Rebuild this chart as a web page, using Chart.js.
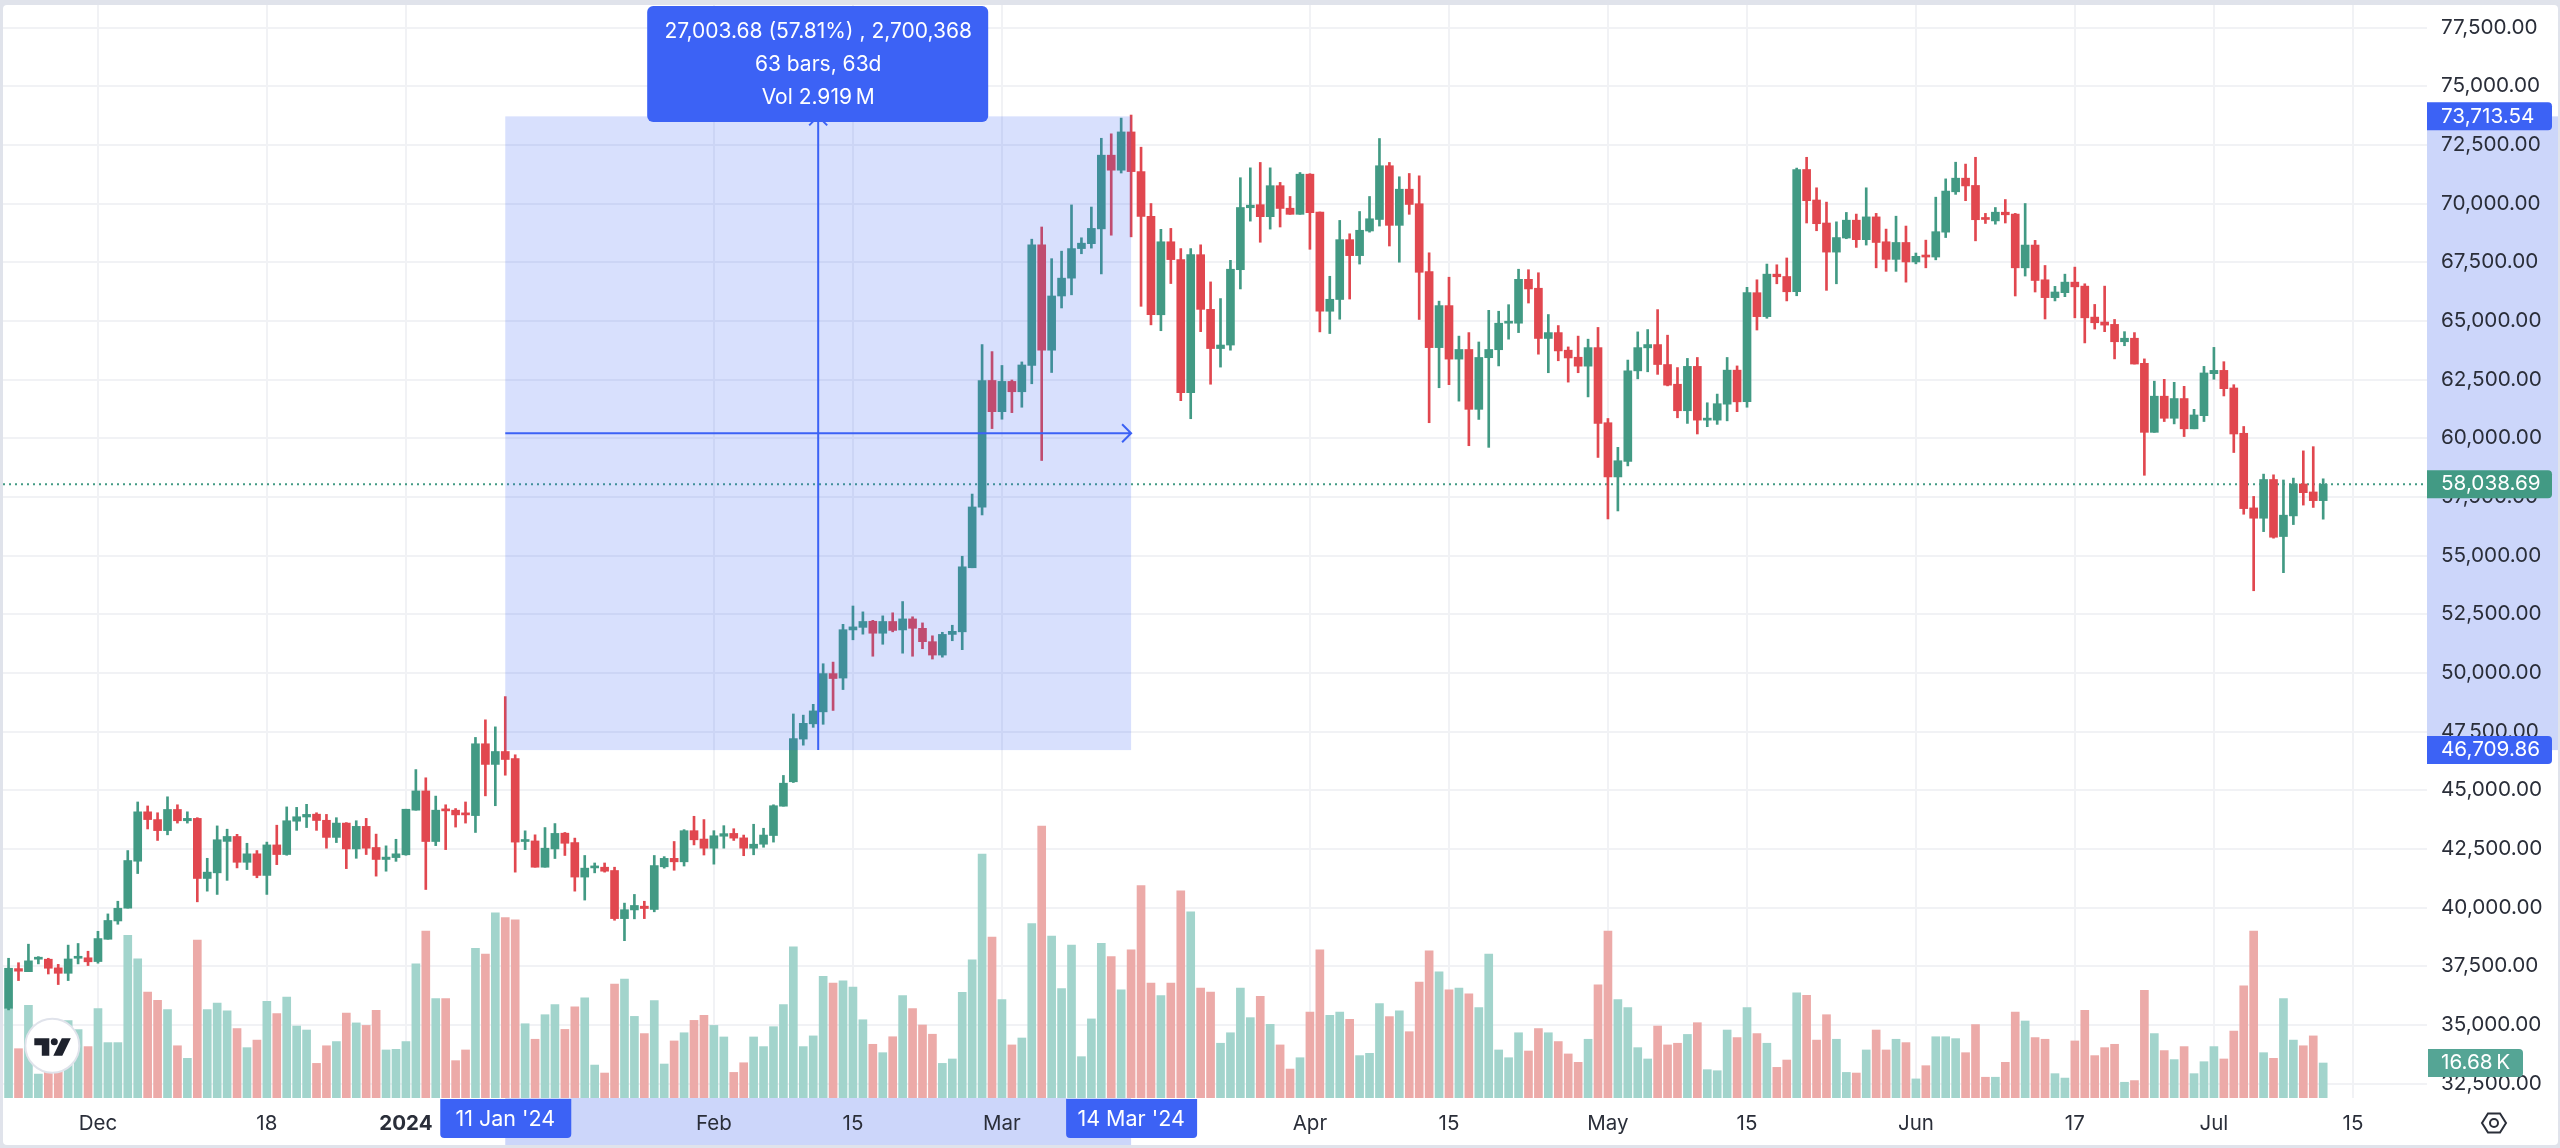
<!DOCTYPE html>
<html>
<head>
<meta charset="utf-8">
<title>BTC measure</title>
<script src="https://cdn.jsdelivr.net/npm/chart.js@4/dist/chart.umd.min.js"></script>
<style>
html, body { margin: 0; padding: 0; background: #e0e3eb; overflow: hidden; }
canvas { display: block; }
</style>
</head>
<body>
<canvas id="chart" width="2560" height="1148"></canvas>
<script>
// one entry per day, first bar is 22 Nov 2023, last is 12 Jul 2024
const opens = [
35710,37400,37270,37800,37800,37430,37200,37840,37860,37700,
38650,39430,39975,41975,44080,43750,43280,44180,43700,43800,
41240,41480,42820,43030,41930,42290,41370,42670,42260,43680,
43860,43980,43720,42990,43600,42500,43460,42560,42050,42130,
42250,44150,44970,42815,44190,44150,44020,43920,46980,46100,
46650,46350,42815,42840,41720,42500,43170,42770,41300,41690,
41720,41580,39530,39900,40060,39920,41738,42097,41950,43276,
42920,42530,43040,43160,42970,42530,42700,43070,44320,45360,
47180,47830,48340,49970,49780,51830,51940,52200,51690,52190,
51830,52300,51900,51330,50760,51640,51750,54480,57060,62460,
61130,62420,61980,63100,68240,63750,66060,66820,68080,68290,
68920,72060,71420,73050,71360,69450,65260,68370,67610,61940,
67820,65490,63820,63970,67180,69820,69950,69440,70760,69800,
69540,71250,69640,65410,65910,68460,67780,68830,69320,71610,
69070,70610,69990,67100,63860,65650,63370,63780,61230,63430,
63770,64900,64900,66770,66390,64250,64500,63750,63450,63070,
63860,60660,58350,59010,62870,63850,63990,63140,62300,61170,
63060,60770,60770,61450,62900,61560,66200,65180,66990,66890,
66240,71450,70150,69170,67930,68530,69290,68460,69430,68370,
67620,68340,67510,67780,67720,68780,70500,71080,70770,69380,
69260,69630,69550,67260,68230,66750,65990,66200,66650,66480,
65160,64950,64850,64110,64260,63190,60250,61790,60850,61690,
60400,60960,62750,62890,62140,60210,57030,56590,58240,55810,
56690,58050,57710,57340];

const closes = [
37415,37290,37730,37860,37415,37200,37810,37900,37690,38680,
39450,39970,42005,44080,43750,43280,44180,43700,43800,41240,
41510,42890,43030,41930,42290,41370,42670,42260,43700,43870,
43970,43710,42990,43600,42500,43460,42530,42050,42150,42290,
44190,44970,42815,44150,44120,43950,43950,46980,46100,46650,
46310,42790,42890,41720,42530,43160,42740,41300,41680,41760,
41550,39530,39910,40090,39960,41790,42097,41950,43276,42888,
42530,43060,43150,42960,42530,42700,43090,44340,45300,47200,
47850,48380,49970,49760,51840,51960,52190,51690,52190,51810,
52300,51900,51330,50760,51640,51770,54520,57070,62460,61130,
62420,61980,63120,68240,63750,66060,66820,68080,68310,68940,
72060,71420,73050,71360,69450,65260,68370,67610,61940,67820,
65490,63820,63970,67200,69830,69930,69440,70760,69790,69540,
71250,69610,65410,65920,68460,67780,68860,69350,71610,69070,
70610,69960,67070,63860,65650,63370,63780,61230,63440,63780,
64900,64960,66770,66360,64250,64500,63720,63420,63070,63860,
60630,58350,59040,62870,63860,63990,63140,62260,61170,63060,
60770,60840,61470,62900,61550,66200,65180,66990,66880,66240,
71450,70120,69140,67930,68550,69290,68460,69430,68340,67620,
68340,67510,67750,67720,68800,70530,71080,70750,69310,69320,
69630,69520,67260,68230,66720,65990,66230,66650,66450,65130,
64920,64820,64110,64260,63160,60250,61790,60850,61690,60400,
60990,62780,62890,62110,60180,57000,56590,58240,55780,56720,
58050,57680,57340,58040];

const highs = [
37840,37650,38440,37910,37840,37580,38400,38470,38140,38990,
39730,40270,42430,44500,44330,44040,44720,44380,44080,43830,
42100,43480,43340,43120,42740,42430,42790,43510,44290,44270,
44400,44040,43970,43830,43620,43700,43800,43130,42630,42910,
44190,45880,45530,44750,44380,44220,44500,47250,48000,47700,
48990,46510,43270,43100,43410,43580,43200,42960,42220,41900,
41900,41720,40190,40560,40270,42220,42170,42816,43320,43890,
43750,43276,43490,43360,43090,43550,43380,44380,45630,48250,
48200,48660,50390,50460,52070,52850,52600,52240,52430,52560,
53040,52390,52130,51580,51730,52030,54970,57620,63990,63690,
63100,62480,63250,68480,69000,67650,67970,69940,68540,69850,
72780,72970,73640,73770,72400,70000,68900,68940,68080,68080,
68240,66660,65950,67580,71100,71520,71750,71520,70900,70300,
71320,71270,69640,66900,69280,68710,69660,70300,72770,71750,
71140,71280,71180,67900,65840,66860,64350,64500,64100,65450,
65410,65690,67200,67180,67050,65270,64800,63890,64350,64220,
64720,60840,59610,63330,64530,64630,65480,64390,63010,63400,
63440,61510,61880,63440,63080,66430,66750,67420,67390,67680,
71510,71970,70670,70060,69220,69620,69550,70670,69580,68910,
69460,69040,67890,68440,70270,71050,71760,71680,71970,69580,
69830,70170,69580,70000,68430,67360,66470,66990,67290,66580,
65700,66480,65060,64540,64500,63380,62430,62510,62380,62210,
61230,63060,63870,63260,62280,60500,57520,58470,58440,58220,
58300,59460,59640,58270];

const lows = [
35640,36890,37270,37600,37170,36720,36890,37600,37530,37630,
38650,39290,39975,41450,43350,42860,43100,43600,43600,40245,
40700,40560,41160,41690,41620,41270,40560,41830,42230,43290,
43410,43290,42530,42770,41660,42100,42260,41340,41550,41970,
42230,44150,40770,42640,42470,43430,43600,43200,44760,44340,
45640,41510,42470,41720,41720,42090,42220,40700,40320,41480,
41510,39460,38590,39520,39530,39820,41680,41590,41770,42670,
42240,41850,42530,42860,42210,42250,42570,42790,44320,45330,
46920,47680,47810,48400,49290,51410,51650,50710,51220,51750,
50840,50710,51030,50590,50670,51370,50990,54480,56730,60410,
60810,61090,61320,62320,59050,62800,65550,66110,67860,68100,
67000,68650,71300,68580,65620,64830,64580,66590,61600,60830,
64540,62300,63030,63750,66360,69250,68350,68910,69000,69540,
69540,68050,64530,64460,65070,65930,67420,68780,69040,68190,
67500,69540,65060,60660,62150,62280,61580,59680,60800,59610,
63080,64220,64500,65760,63580,62790,63300,62390,62790,61760,
59180,56560,56900,58820,62530,62830,62720,62230,60870,60630,
60180,60490,60590,60740,61130,61320,64610,65110,66580,65850,
66070,69170,68840,66300,66580,68500,68130,68230,67260,67110,
67110,66650,67430,67260,67600,68550,70390,70120,68410,69150,
69120,69170,66060,66910,66230,65080,65850,66030,65130,64060,
64650,64540,63380,63940,63160,58420,60250,60710,60610,60070,
60400,60710,62510,61800,59390,56760,53500,56020,55740,54270,
56320,57150,57050,56550];

// volume in thousands
const volumes = [
42.9,23.5,44.2,11.4,20,18,36.9,32.6,24.5,42.6,
26.4,26.4,77.5,66.3,50.5,46.6,42.1,24.9,18.9,75.3,
42.1,45.3,41.5,33.1,24.0,27.6,46.1,40.2,48.1,34.3,
32.4,16.5,24.9,26.9,40.5,35.8,34.6,41.8,22.9,23.2,
26.9,63.9,79.6,47.4,47.4,17.8,22.9,71.3,68.6,88.3,
86.0,84.9,35.4,28.0,39.7,44.5,32.7,43.4,47.7,15.7,
11.9,54.3,56.7,38.9,30.7,46.4,16.2,27.2,31.1,37.0,
39.4,34.6,29.1,12.2,16.8,29.1,24.5,34.0,44.5,72.0,
24.5,29.6,58.0,54.8,55.9,52.9,37.3,25.6,21.6,29.2,
48.8,42.6,34.8,30.4,16.5,18.6,50.4,65.9,116.3,76.7,
46.9,25.3,28.6,83.1,129.6,77.2,52.1,72.9,19.7,37.7,
73.7,67.4,51.6,70.6,101.2,54.8,48.8,54.8,98.8,88.7,
52.4,50.5,26.1,31.1,52.4,38.3,48.5,35.1,25.3,13.8,
19.2,41.0,70.6,39.4,41.0,37.5,20.2,21.3,45.0,38.8,
41.5,31.6,55.3,70.2,60.2,51.6,52.4,49.7,43.1,68.6,
22.9,19.2,31.1,22.4,33.1,31.1,26.9,21.0,17.0,28.0,
54.0,79.6,46.9,43.1,24.0,18.6,34.3,25.3,26.1,30.3,
35.9,13.5,13.0,32.4,28.8,43.1,30.7,26.1,14.6,18.1,
50.1,48.9,27.6,39.7,28.0,12.2,11.9,22.9,32.4,22.9,
28.0,26.4,9.1,15.4,29.2,29.2,28.3,21.6,35.0,9.9,
9.9,17.0,41.0,36.7,28.8,28.0,11.6,9.5,27.2,41.8,
20.2,24.0,25.6,7.5,8.3,51.3,30.7,22.6,18.3,24.5,
11.6,17.3,24.5,18.6,31.9,53.5,79.6,21.6,18.9,47.4,
27.6,24.9,29.6,16.68];

const priceTicks = [32500,35000,37500,40000,42500,45000,47500,50000,52500,55000,57500,60000,62500,65000,67500,70000,72500,75000,77500];
const timeTickBars = [9,26,40,71,85,100,131,145,161,175,192,208,222,236];
const timeTickLabels = ["Dec","18","2024","Feb","15","Mar","Apr","15","May","15","Jun","17","Jul","15"];

const lastPrice = 58038.69;
const lastVolume = 16.68;
const measureFromBar = 50, measureToBar = 113;
const measureFromPrice = 46709.86, measureToPrice = 73713.54;
const measureLines = ["27,003.68 (57.81%) , 2,700,368", "63 bars, 63d", "Vol 2.919\u2009M"];

const upColor = "#429a84", downColor = "#e1474f";
const upVol = "#a2d4cc", downVol = "#ecaaa8";
const blue = "#3c62f5";
const gridColor = "#f1f2f5";
const font = "Inter";

function isUp(i) { return closes[i] >= opens[i]; }
function money(v) { return v.toLocaleString("en-US", { minimumFractionDigits: 2, maximumFractionDigits: 2 }); }

function badge(ctx, x, y, w, h, r, fill) {
    ctx.fillStyle = fill;
    ctx.beginPath();
    ctx.roundRect(x, y, w, h, r);
    ctx.fill();
}

function label(ctx, text, x, y, align, size) {
    ctx.fillStyle = "#fff";
    ctx.font = "400 " + size + "px " + font;
    ctx.textAlign = align;
    ctx.textBaseline = "middle";
    ctx.fillText(text, x, y);
}

// chart.js keeps room for the outer tick labels, the reference does not
function noEdgePadding(axis) {
    axis.paddingTop = 0;
    axis.paddingBottom = 0;
    axis.paddingLeft = 0;
    axis.paddingRight = 0;
}

const panelPlugin = {
    id: "panel",
    beforeDraw(chart) {
        const ctx = chart.ctx, a = chart.chartArea, xs = chart.scales.x, ys = chart.scales.y;
        ctx.save();
        ctx.fillStyle = "#e0e3eb";
        ctx.fillRect(0, 0, chart.width, chart.height);
        ctx.fillStyle = "#fff";
        ctx.beginPath();
        ctx.roundRect(a.left, a.top, chart.width - a.left - 2, chart.height - a.top - 3, 4);
        ctx.fill();
        // axis highlights of the measured range, they go under the tick labels
        ctx.fillStyle = "#ccd6fa";
        const x0 = xs.getPixelForValue(measureFromBar), x1 = xs.getPixelForValue(measureToBar);
        ctx.fillRect(x0, a.bottom, x1 - x0, chart.height - 3 - a.bottom);
        const y0 = ys.getPixelForValue(measureToPrice), y1 = ys.getPixelForValue(measureFromPrice);
        ctx.fillRect(a.right, y0, chart.width - 2 - a.right, y1 - y0);
        ctx.restore();
    },
    beforeDatasetsDraw(chart) {
        const ctx = chart.ctx, a = chart.chartArea, y = chart.scales.y.getPixelForValue(lastPrice);
        ctx.save();
        ctx.strokeStyle = upColor;
        ctx.lineWidth = 2;
        ctx.setLineDash([2, 4]);
        ctx.beginPath();
        ctx.moveTo(a.left, y);
        ctx.lineTo(a.right, y);
        ctx.stroke();
        ctx.restore();
    },
    afterDraw(chart) {
        const ctx = chart.ctx, a = chart.chartArea, xs = chart.scales.x, ys = chart.scales.y, vs = chart.scales.vol;
        const x0 = xs.getPixelForValue(measureFromBar), x1 = xs.getPixelForValue(measureToBar);
        const y0 = ys.getPixelForValue(measureToPrice), y1 = ys.getPixelForValue(measureFromPrice);
        const mx = xs.getPixelForValue((measureFromBar + measureToBar) / 2);
        const my = ys.getPixelForValue((measureFromPrice + measureToPrice) / 2);
        ctx.save();

        ctx.fillStyle = "rgba(60,98,245,0.2)";
        ctx.fillRect(x0, y0, x1 - x0, y1 - y0);

        ctx.strokeStyle = blue;
        ctx.lineWidth = 2;
        ctx.beginPath();
        ctx.moveTo(x0, my); ctx.lineTo(x1, my);
        ctx.moveTo(x1 - 9, my - 9); ctx.lineTo(x1, my); ctx.lineTo(x1 - 9, my + 9);
        ctx.moveTo(mx, y1); ctx.lineTo(mx, y0);
        ctx.moveTo(mx - 9, y0 + 9); ctx.lineTo(mx, y0); ctx.lineTo(mx + 9, y0 + 9);
        ctx.stroke();

        // measure box
        badge(ctx, mx - 171, a.top + 1, 341, 116, 6, blue);
        measureLines.forEach((t, i) => label(ctx, t, mx, a.top + 27 + i * 33, "center", 21));

        // price badges
        [[measureToPrice, blue], [measureFromPrice, blue], [lastPrice, upColor]].forEach(p => {
            const y = ys.getPixelForValue(p[0]);
            badge(ctx, a.right, y - 14, 125, 28, [0, 4, 4, 0], p[1]);
            label(ctx, money(p[0]), a.right + 14, y, "left", 20.7);
        });
        const vy = vs.getPixelForValue(lastVolume);
        badge(ctx, a.right + 1, vy - 14, 95, 28, [0, 4, 4, 0], "#55a595");
        label(ctx, lastVolume + "\u2009K", a.right + 14, vy, "left", 20.7);

        // time badges
        [[measureFromBar, "11 Jan '24"], [measureToBar, "14 Mar '24"]].forEach(t => {
            const x = xs.getPixelForValue(t[0]);
            badge(ctx, x - 65, a.bottom + 1, 131, 39, [0, 0, 4, 4], blue);
            label(ctx, t[1], x, a.bottom + 22, "center", 21.5);
        });

        // logo
        const cx = 52.3, cy = a.bottom - 52.3;
        ctx.fillStyle = "#fff";
        ctx.strokeStyle = "#e0e3eb";
        ctx.lineWidth = 2;
        ctx.beginPath();
        ctx.arc(cx, cy, 27, 0, Math.PI * 2);
        ctx.fill();
        ctx.stroke();
        ctx.fillStyle = "#1e222d";
        ctx.beginPath();
        ctx.moveTo(cx - 18, cy - 7.5); ctx.lineTo(cx - 3, cy - 7.5); ctx.lineTo(cx - 3, cy + 10);
        ctx.lineTo(cx - 10.5, cy + 10); ctx.lineTo(cx - 10.5, cy - 0.5); ctx.lineTo(cx - 18, cy - 0.5);
        ctx.closePath();
        ctx.moveTo(cx + 9.5, cy - 7.5); ctx.lineTo(cx + 18.5, cy - 7.5); ctx.lineTo(cx + 10, cy + 10); ctx.lineTo(cx + 1, cy + 10);
        ctx.closePath();
        ctx.moveTo(cx + 5.5, cy - 4);
        ctx.arc(cx + 2, cy - 4, 3.5, 0, Math.PI * 2);
        ctx.fill();

        // settings icon
        const sx = 2494, sy = 1123;
        ctx.strokeStyle = "#2a2e39";
        ctx.lineWidth = 2;
        ctx.beginPath();
        for (let i = 0; i < 6; i++) {
            const ang = Math.PI / 3 * i;
            const px = sx + 12 * Math.cos(ang), py = sy + 11 * Math.sin(ang);
            if (i === 0) ctx.moveTo(px, py); else ctx.lineTo(px, py);
        }
        ctx.closePath();
        ctx.moveTo(sx + 4, sy);
        ctx.arc(sx, sy, 4, 0, Math.PI * 2);
        ctx.stroke();
        ctx.restore();
    }
};

const wickData = highs.map((h, i) => ({ x: i, y: [lows[i], h] }));
const bodyData = opens.map((o, i) => ({ x: i, y: [Math.min(o, closes[i]), Math.max(o, closes[i])] }));
const volData = volumes.map((v, i) => ({ x: i, y: v }));

new Chart(document.getElementById("chart"), {
    type: "bar",
    plugins: [panelPlugin],
    data: {
        datasets: [
            {
                label: "Body",
                data: bodyData,
                yAxisID: "y",
                order: 1,
                grouped: false,
                barThickness: 8,
                minBarLength: 2,
                backgroundColor: opens.map((o, i) => isUp(i) ? upColor : downColor)
            },
            {
                label: "Wick",
                data: wickData,
                yAxisID: "y",
                order: 2,
                grouped: false,
                barThickness: 2,
                backgroundColor: opens.map((o, i) => isUp(i) ? upColor : downColor)
            },
            {
                label: "Volume",
                data: volData,
                yAxisID: "vol",
                order: 3,
                grouped: false,
                barThickness: 8,
                backgroundColor: opens.map((o, i) => isUp(i) ? upVol : downVol)
            }
        ]
    },
    options: {
        responsive: false,
        devicePixelRatio: 1,
        animation: false,
        layout: { padding: { left: 3, right: 2, top: 5, bottom: 3 } },
        plugins: { legend: { display: false }, tooltip: { enabled: false } },
        scales: {
            x: {
                type: "linear",
                offset: false,
                min: -0.56,
                max: 243.45,
                grid: { color: gridColor, lineWidth: 2, drawTicks: false, offset: false },
                border: { display: false },
                afterBuildTicks(axis) { axis.ticks = timeTickBars.map(v => ({ value: v })); },
                afterFit(axis) { axis.height = 47; noEdgePadding(axis); },
                ticks: {
                    autoSkip: false,
                    maxRotation: 0,
                    padding: 14,
                    color: "#2a2e39",
                    font: c => ({ family: font, size: 20.5, weight: timeTickLabels[c.index] === "2024" ? "700" : "400" }),
                    callback: (v, i) => timeTickLabels[i]
                }
            },
            y: {
                position: "right",
                min: 31886,
                max: 78459,
                grid: { color: gridColor, lineWidth: 2, drawTicks: false },
                border: { display: false },
                afterBuildTicks(axis) { axis.ticks = priceTicks.map(v => ({ value: v })); },
                afterFit(axis) { axis.width = 131; noEdgePadding(axis); },
                ticks: {
                    padding: 14,
                    color: "#2a2e39",
                    font: { family: font, size: 20.7 },
                    callback: v => money(v)
                }
            },
            vol: { display: false, min: 0, max: 521 }
        }
    }
});
</script>
</body>
</html>
